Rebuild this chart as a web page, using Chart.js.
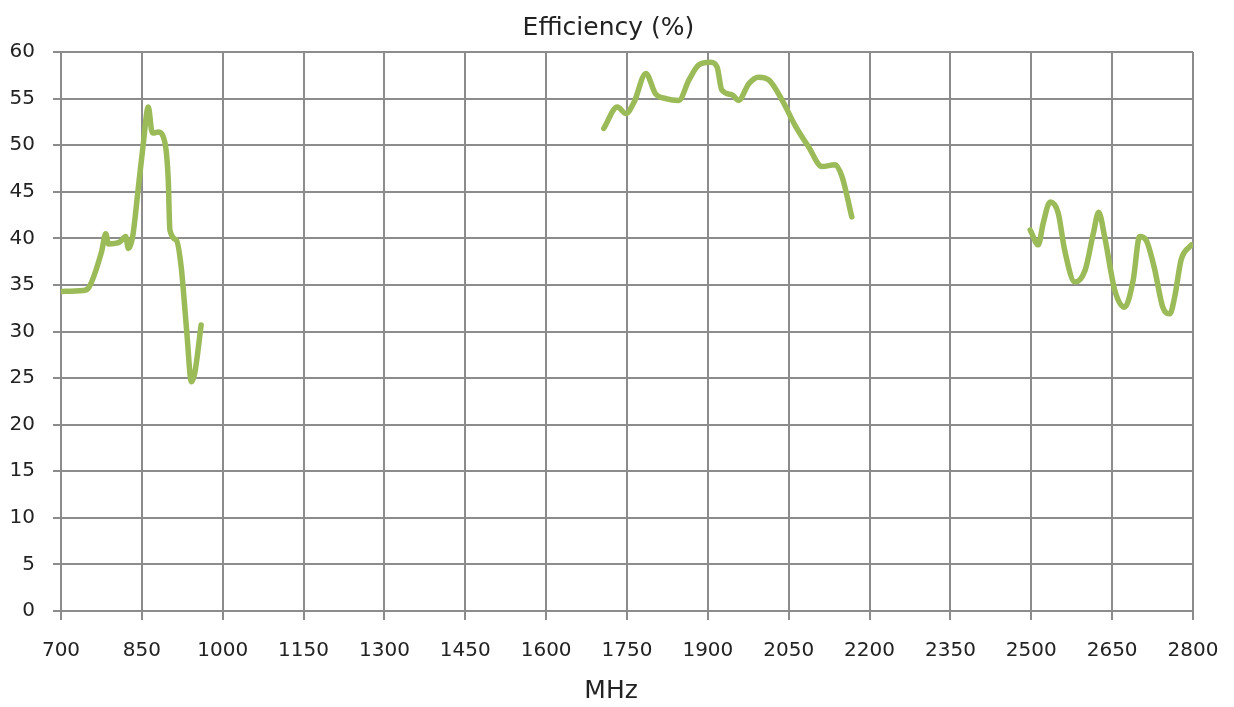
<!DOCTYPE html>
<html>
<head>
<meta charset="utf-8">
<title>Efficiency (%)</title>
<script src="https://cdn.jsdelivr.net/npm/chart.js@4.4.1/dist/chart.umd.min.js"></script>
<style>
  html, body { margin: 0; padding: 0; background: #fff; }
  #wrap { width: 1234px; height: 707px; position: relative; }
</style>
</head>
<body>
<div id="wrap"><canvas id="myChart"></canvas></div>
<script>
// x tick labels (MHz) and y tick labels (%)
var xTicks = [700, 850, 1000, 1150, 1300, 1450, 1600, 1750, 1900, 2050, 2200, 2350, 2500, 2650, 2800];
var yTicks = [0, 5, 10, 15, 20, 25, 30, 35, 40, 45, 50, 55, 60];

// low band
var lowFreq = [701, 741, 750, 775, 783, 788, 809, 820, 825, 833, 843, 852, 862, 868, 871, 880, 893, 899, 902, 914, 923, 933, 942, 948, 960];
var lowEff  = [34.3, 34.4, 34.6, 38.5, 40.5, 39.4, 39.6, 40.2, 38.9, 40.2, 45.2, 49.8, 54.1, 51.6, 51.3, 51.4, 50.2, 46.2, 40.9, 39.8, 36.9, 30.2, 24.6, 25.5, 30.7];

// mid band
var midFreq = [1707, 1732, 1748, 1763, 1785, 1803, 1822, 1846, 1865, 1883, 1905, 1917, 1926, 1945, 1957, 1976, 1994, 2013, 2038, 2062, 2087, 2112, 2136, 2149, 2167];
var midEff  = [51.8, 54.1, 53.4, 54.6, 57.7, 55.5, 55.0, 54.8, 57.0, 58.6, 58.9, 58.4, 55.9, 55.4, 54.8, 56.6, 57.3, 57.0, 54.8, 52.1, 49.8, 47.7, 47.9, 46.6, 42.3];

// high band
var highFreq = [2498, 2513, 2522, 2535, 2550, 2562, 2581, 2600, 2615, 2625, 2636, 2655, 2673, 2689, 2701, 2713, 2728, 2744, 2757, 2766, 2778, 2797];
var highEff  = [40.9, 39.3, 41.6, 43.9, 42.7, 38.7, 35.3, 36.6, 40.5, 42.8, 40.2, 34.4, 32.6, 35.5, 40.2, 39.8, 36.9, 32.6, 31.9, 33.7, 37.7, 39.3];

function toPoints(xs, ys) {
    var pts = [];
    for (var i = 0; i < xs.length; i++) {
        pts.push({ x: xs[i], y: ys[i] });
    }
    return pts;
}

var lineColor = '#9bbb59';
var gridColor = '#8c8c8c';
var textColor = '#222222';
var fontFamily = '"DejaVu Sans", Verdana, sans-serif';

function band(label, xs, ys) {
    return {
        label: label,
        data: toPoints(xs, ys),
        borderColor: lineColor,
        backgroundColor: lineColor,
        borderWidth: 5.5,
        pointRadius: 0,
        fill: false,
        cubicInterpolationMode: 'monotone',
        borderCapStyle: 'round',
        borderJoinStyle: 'round'
    };
}

// plain numbers, no thousands separator
function plainLabel(value) {
    return String(value);
}

var ctx = document.getElementById('myChart').getContext('2d');

window.myChartInstance = new Chart(ctx, {
    type: 'line',
    data: {
        datasets: [
            band('Low', lowFreq, lowEff),
            band('Mid', midFreq, midEff),
            band('High', highFreq, highEff)
        ]
    },
    options: {
        responsive: true,
        maintainAspectRatio: false,
        animation: false,
        layout: {
            padding: { left: 0, right: 41, top: 0, bottom: 0 }
        },
        plugins: {
            legend: { display: false },
            tooltip: { enabled: false },
            title: {
                display: true,
                // leading spaces nudge the centred title a little to the right
                text: '\u00a0\u00a0\u00a0Efficiency (%)',
                color: textColor,
                font: { family: fontFamily, size: 25, weight: 'normal' },
                padding: { top: 13, bottom: 9 }
            }
        },
        scales: {
            x: {
                type: 'linear',
                min: 700,
                max: 2800,
                afterBuildTicks: function (scale) {
                    scale.ticks = xTicks.map(function (v) { return { value: v }; });
                },
                afterFit: function (scale) {
                    scale.height = 96;
                    scale.paddingLeft = 0;
                    scale.paddingRight = 0;
                },
                grid: {
                    color: gridColor,
                    lineWidth: 2,
                    tickLength: 9,
                    drawTicks: true
                },
                border: { color: gridColor, width: 2 },
                ticks: {
                    color: textColor,
                    font: { family: fontFamily, size: 20 },
                    padding: 19,
                    maxRotation: 0,
                    autoSkip: false,
                    callback: plainLabel
                },
                title: {
                    display: true,
                    text: 'MHz\u00a0\u00a0\u00a0\u00a0',
                    color: textColor,
                    font: { family: fontFamily, size: 25 },
                    padding: { top: 0, bottom: 1 }
                }
            },
            y: {
                min: 0,
                max: 60,
                afterBuildTicks: function (scale) {
                    scale.ticks = yTicks.map(function (v) { return { value: v }; });
                },
                afterFit: function (scale) {
                    scale.width = 61;
                    scale.paddingTop = 0;
                    scale.paddingBottom = 0;
                },
                grid: {
                    color: gridColor,
                    lineWidth: 2,
                    tickLength: 8,
                    drawTicks: true
                },
                border: { color: gridColor, width: 2 },
                ticks: {
                    color: textColor,
                    font: { family: fontFamily, size: 20 },
                    padding: 18,
                    autoSkip: false,
                    callback: plainLabel
                }
            }
        }
    }
});
</script>
</body>
</html>
